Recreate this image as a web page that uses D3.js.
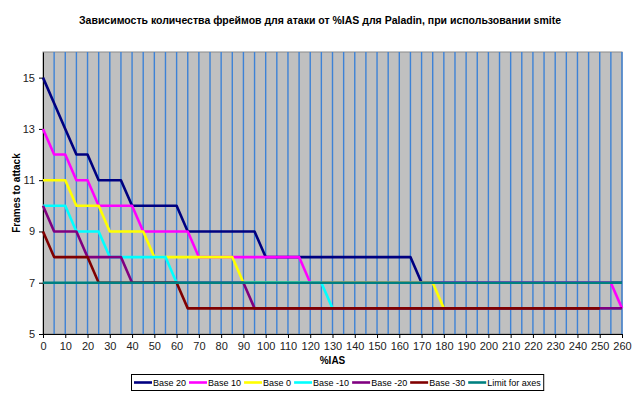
<!DOCTYPE html>
<html>
<head>
<meta charset="utf-8">
<script src="https://cdn.jsdelivr.net/npm/d3@7"></script>
<style>
  body { margin: 0; background: #fff; }
  text { font-family: "Liberation Sans", Arial, sans-serif; }
</style>
</head>
<body>
<svg id="chart"></svg>
<script>
// %IAS steps, 0..260 by 5
const ias = d3.range(0, 265, 5);

const base20 = [15,14,13,12,12, 11,11,11, 10,10,10,10,10, 9,9,9,9,9,9,9,
  8,8,8,8,8,8,8,8,8,8,8,8,8,8,
  7,7,7,7,7,7,7,7,7,7,7,7,7,7,7,7,7,7,7];
const base10 = [13,12,12,11,11, 10,10,10,10, 9,9,9,9,9,
  8,8,8,8,8,8,8,8,8,8,
  7,7,7,7,7,7,7,7,7,7,7,7,7,7,7,7,7,7,7,7,7,7,7,7,7,7,7,7, 6];
const base0 = [11,11,11, 10,10,10, 9,9,9,9, 8,8,8,8,8,8,8,8,
  7,7,7,7,7,7,7,7,7,7,7,7,7,7,7,7,7,7,
  6,6,6,6,6,6,6,6,6,6,6,6,6,6,6,6,6];
const baseM10 = [10,10,10, 9,9,9, 8,8,8,8,8,8,
  7,7,7,7,7,7,7,7,7,7,7,7,7,7,
  6,6,6,6,6,6,6,6,6,6,6,6,6,6,6,6,6,6,6,6,6,6,6,6,6,6,6];
const baseM20 = [10, 9,9,9, 8,8,8,8, 7,7,7,7,7,7,7,7,7,7,7,
  6,6,6,6,6,6,6,6,6,6,6,6,6,6,6,6,6,6,6,6,6,6,6,6,6,6,6,6,6,6,6,6,6,6];
const baseM30 = [9, 8,8,8,8, 7,7,7,7,7,7,7,7,
  6,6,6,6,6,6,6,6,6,6,6,6,6,6,6,6,6,6,6,6,6,6,6,6,6,6,6,6,6,6,6,6,6,6,6,6,6,6];
const limit = [7,7,7,7,7,7,7,7,7,7,7,7,7,7,7,7,7,7,7,7,7,7,7,7,7,7,7,7,7,7,7,7,7,7,7,7,7,7,7,7,7,7,7,7,7,7,7,7,7,7,7,7,7];

const seriesNames = ["Base 20", "Base 10", "Base 0", "Base -10", "Base -20", "Base -30", "Limit for axes"];
const seriesValues = [base20, base10, base0, baseM10, baseM20, baseM30, limit];
const seriesColors = ["#000080", "#ff00ff", "#ffff00", "#00ffff", "#800080", "#800000", "#008080"];

const xTicks = d3.range(0, 270, 10);
const yTicks = [5, 7, 9, 11, 13, 15];

const title = "Зависимость количества фреймов для атаки от %IAS для Paladin, при использовании smite";

// chart dimensions
const svgWidth = 640, svgHeight = 399;
const plotLeft = 43, plotRight = 622, plotTop = 52, plotBottom = 334;

const svg = d3.select("#chart")
  .attr("width", svgWidth)
  .attr("height", svgHeight);

const x = d3.scaleLinear().domain([0, 260]).range([plotLeft, plotRight]);
const y = d3.scaleLinear().domain([5, 16]).range([plotBottom, plotTop]);

// plot area background
svg.append("rect")
  .attr("x", plotLeft).attr("y", plotTop)
  .attr("width", plotRight - plotLeft).attr("height", plotBottom - plotTop)
  .attr("fill", "#c0c0c0")
  .attr("stroke", "#8a8a8a")
  .attr("stroke-width", 1);

// vertical grid lines every 5
svg.append("g")
  .selectAll("line")
  .data(ias.filter(d => d > 0))
  .join("line")
  .attr("x1", d => x(d)).attr("x2", d => x(d))
  .attr("y1", plotTop).attr("y2", plotBottom)
  .attr("stroke", "#3d82d6")
  .attr("stroke-width", 1.4);

// x axis
svg.append("g")
  .attr("transform", `translate(0,${plotBottom})`)
  .call(d3.axisBottom(x).tickValues(xTicks).tickSize(4).tickSizeOuter(0).tickPadding(4))
  .call(g => g.select(".domain").attr("stroke", "#000"))
  .call(g => g.selectAll("text").attr("font-size", 11).attr("fill", "#222")
    .style("font-family", "'Liberation Sans', Arial, sans-serif"));

// y axis
svg.append("g")
  .attr("transform", `translate(${plotLeft},0)`)
  .call(d3.axisLeft(y).tickValues(yTicks).tickSize(4).tickSizeOuter(0).tickPadding(4))
  .call(g => g.select(".domain").attr("stroke", "#000"))
  .call(g => g.selectAll("text").attr("font-size", 11).attr("fill", "#222")
    .style("font-family", "'Liberation Sans', Arial, sans-serif"));

// series lines
const line = d3.line()
  .x((d, i) => x(ias[i]))
  .y(d => y(d));

svg.append("g")
  .selectAll("path")
  .data(seriesValues)
  .join("path")
  .attr("fill", "none")
  .attr("stroke", (d, i) => seriesColors[i])
  .attr("stroke-width", 2.6)
  .attr("stroke-linejoin", "round")
  .attr("d", line);

// title and axis labels
svg.append("text")
  .attr("x", 320).attr("y", 24)
  .attr("text-anchor", "middle")
  .attr("font-size", 10.5).attr("font-weight", "bold")
  .text(title);

svg.append("text")
  .attr("x", (plotLeft + plotRight) / 2).attr("y", 364)
  .attr("text-anchor", "middle")
  .attr("font-size", 10).attr("font-weight", "bold")
  .text("%IAS");

svg.append("text")
  .attr("transform", `translate(20,${(plotTop + plotBottom) / 2}) rotate(-90)`)
  .attr("text-anchor", "middle")
  .attr("font-size", 10).attr("font-weight", "bold")
  .text("Frames to attack");

// legend
const legend = svg.append("g");
const legendBox = legend.append("rect")
  .attr("y", 374.5).attr("height", 16)
  .attr("fill", "#fff").attr("stroke", "#000").attr("stroke-width", 1);

let lx = 134;
seriesNames.forEach((name, i) => {
  legend.append("line")
    .attr("x1", lx).attr("x2", lx + 18)
    .attr("y1", 382.5).attr("y2", 382.5)
    .attr("stroke", seriesColors[i]).attr("stroke-width", 2.6);
  const t = legend.append("text")
    .attr("x", lx + 19).attr("y", 386)
    .attr("font-size", 9)
    .text(name);
  lx += 19 + t.node().getComputedTextLength() + 3;
});
legendBox.attr("x", 131.5).attr("width", lx - 131.5);
</script>
</body>
</html>
